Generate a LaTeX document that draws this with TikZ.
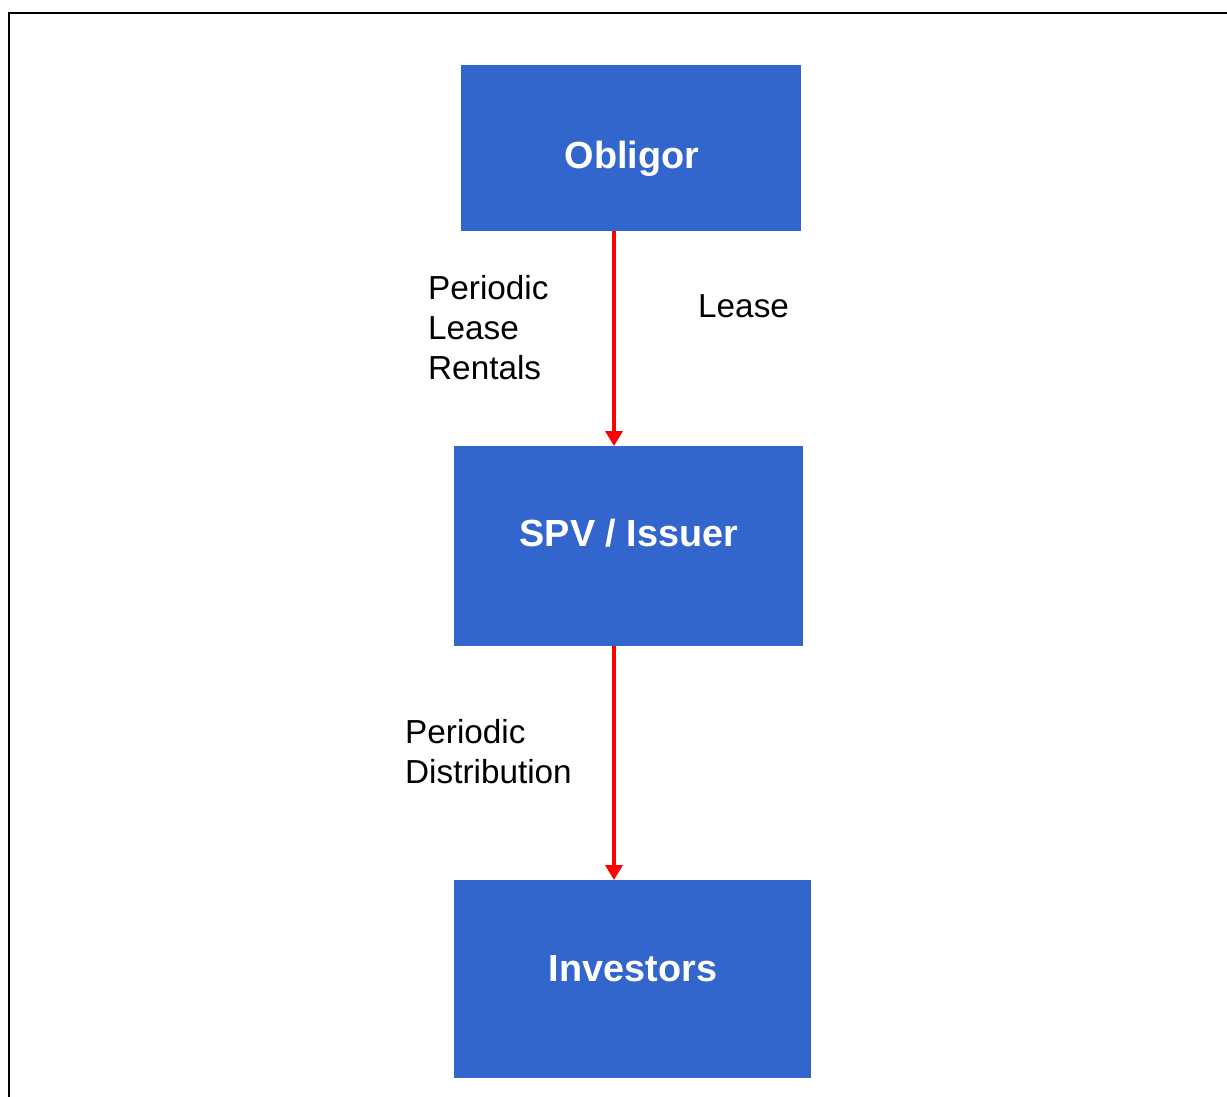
\documentclass[tikz,border=0pt]{standalone}
\usepackage{fontspec}
\setmainfont{Liberation Sans}
\usetikzlibrary{arrows.meta}
\definecolor{boxblue}{HTML}{3366CC}
\definecolor{flowred}{HTML}{FF0000}
\tikzset{
  party/.style={fill=boxblue, draw=none, inner sep=0pt, outer sep=0pt},
  partyname/.style={text=white, inner sep=0pt, anchor=base,
    font=\fontsize{37.8}{45}\selectfont\bfseries},
  flow/.style={draw=flowred, line width=3.6pt,
    -{Triangle[length=15pt,width=17pt]}},
  flowlabel/.style={inner sep=0pt, anchor=north west, align=left,
    font=\fontsize{33.3}{40}\selectfont},
  frameline/.style={line width=2.6pt}
}
\begin{document}
\begin{tikzpicture}[x=1pt,y=-1pt]
  \useasboundingbox (0,0) rectangle (1227,1097);

  % outer frame (top and left edges)
  \coordinate (fr1) at (1227,13);
  \coordinate (fr2) at (9,13);
  \coordinate (fr3) at (9,1097);
  \draw[frameline] (fr1) -- (fr2) -- (fr3);

  % parties
  \node[party, minimum width=340pt, minimum height=166pt] (obl) at (631,148) {};
  \node[party, minimum width=349pt, minimum height=200pt] (spv) at (628.5,546) {};
  \node[party, minimum width=357pt, minimum height=198pt] (inv) at (632.5,979) {};

  \node[partyname] (oblt) at (632,168) {Obligor};
  \node[partyname] (spvt) at (629,546) {SPV / Issuer};
  \node[partyname] (invt) at (633,981) {Investors};

  % payment flows
  \coordinate (c1) at (614,0);
  \draw[flow] (obl.south -| c1) -- (spv.north -| c1);
  \draw[flow] (spv.south -| c1) -- (inv.north -| c1);

  % flow labels
  \node[flowlabel] (l1) at (428,275) {Periodic\\Lease\\Rentals};
  \node[flowlabel] (l2) at (698,294) {Lease};
  \node[flowlabel] (l3) at (405,719) {Periodic\\Distribution};
\end{tikzpicture}
\end{document}
